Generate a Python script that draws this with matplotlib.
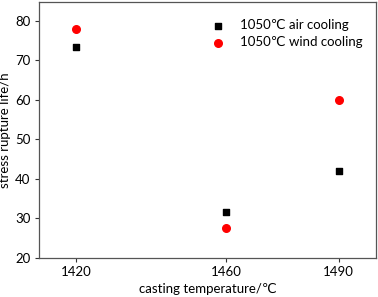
import matplotlib
matplotlib.use("Agg")
import matplotlib.pyplot as plt

plt.rcParams['font.family'] = ['Lato', 'DejaVu Sans']

temps = [1420, 1460, 1490]
air_cooling = [73.5, 31.6, 42.0]
wind_cooling = [78.0, 27.5, 60.0]
xticks = [1420, 1460, 1490]
yticks = [20, 30, 40, 50, 60, 70, 80]

fig = plt.figure(figsize=(3.78, 2.97), dpi=100)
ax = fig.add_axes([0.1032, 0.1313, 0.8915, 0.862])
ax.scatter(temps, air_cooling, marker='s', s=24, color='black', label='1050℃ air cooling', zorder=3)
ax.scatter(temps, wind_cooling, marker='o', s=30, color='#ff0000', label='1050℃ wind cooling', zorder=3)
ax.set_xlim(1410, 1500)
ax.set_ylim(20, 84.8)
ax.set_xticks(xticks)
ax.set_yticks(yticks)
ax.tick_params(direction='out', length=3, width=0.8, labelsize=9.5, colors='#333333', labelcolor='black', pad=3)
for s in ax.spines.values():
    s.set_color('#555555')
    s.set_linewidth(0.9)
ax.set_xlabel('casting temperature/℃', fontsize=9.5, labelpad=3)
ax.set_ylabel('stress rupture life/h', fontsize=9.5, labelpad=3)
ax.legend(loc='upper right', frameon=False, fontsize=9.5, handletextpad=0.7, borderaxespad=0.6,
          bbox_to_anchor=(1.0, 0.985), labelspacing=0.4)
fig.savefig('out.png', dpi=100)
